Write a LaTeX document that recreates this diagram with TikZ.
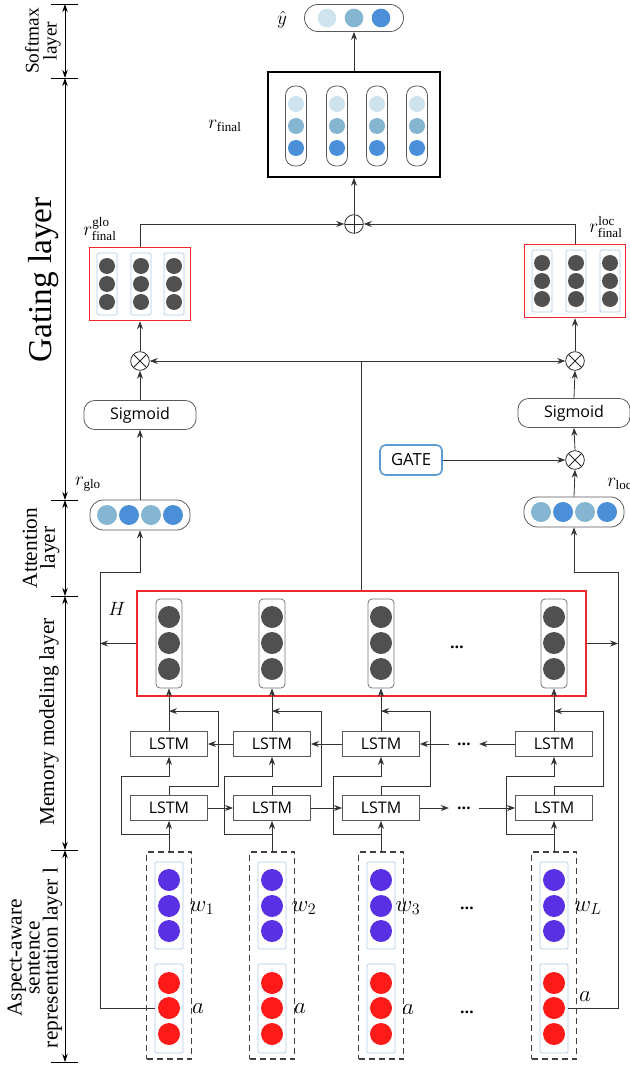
\documentclass[tikz,border=0pt]{standalone}
\usepackage{fontspec}
\setmainfont{Liberation Serif}
\newfontfamily\boxfont{Open Sans}
\usetikzlibrary{arrows.meta,positioning,calc}

\definecolor{vlight}{HTML}{CFE3EE}
\definecolor{vmid}{HTML}{84B5D1}
\definecolor{vdark}{HTML}{4A8FD8}
\definecolor{dgray}{HTML}{505050}
\definecolor{wpurple}{HTML}{5A30E4}
\definecolor{ared}{HTML}{FF1A1A}
\definecolor{redline}{HTML}{F0282D}
\definecolor{colblue}{HTML}{A9C9E6}
\definecolor{gateblue}{HTML}{5B9BD5}

\tikzset{
  ball/.style={circle,inner sep=0pt,minimum size=#1},
  link/.style={draw=black!80,line width=0.6pt},
  arr/.style={link,-{Stealth[length=6pt,width=4.5pt]}},
  dimarr/.style={black,line width=0.6pt,
    {Stealth[length=6pt,width=4pt]}-{Stealth[length=6pt,width=4pt]}},
  tick/.style={black,line width=0.6pt},
  axislabel/.style={rotate=90,align=center,inner sep=0pt,
    font=\fontsize{16}{13.5}\selectfont},
  mlabel/.style={inner sep=0pt,font=\fontsize{14}{14}\selectfont},
  emlabel/.style={inner sep=0pt,font=\fontsize{18}{18}\selectfont},
  pill/.style={draw=black!65,line width=0.6pt,rounded corners=8pt,inner sep=0pt},
  redbox/.style={draw=redline,line width=1.1pt,inner sep=0pt},
  gcol/.style={draw=colblue,line width=0.6pt,rounded corners=1pt,inner sep=0pt,
    minimum width=15pt,minimum height=46.5pt},
  hcol/.style={draw=black!55,line width=0.6pt,rounded corners=3pt,inner sep=0pt,
    minimum width=19.5pt,minimum height=66.75pt},
  embbox/.style={draw=black!75,line width=1pt,dash pattern=on 4.5pt off 3pt,
    inner sep=0pt,minimum width=33.75pt,minimum height=155.25pt},
  inbox/.style={draw=colblue,line width=0.6pt,rounded corners=1pt,inner sep=0pt,
    minimum width=21pt,minimum height=65.25pt},
  lstm/.style={draw=black!65,line width=0.6pt,inner sep=0pt,
    minimum width=57.75pt,minimum height=18.75pt,
    font=\boxfont\fontsize{12}{12}\selectfont},
  sigm/.style={pill,minimum width=84pt,minimum height=21.75pt,
    font=\boxfont\fontsize{12}{12}\selectfont},
  gatebox/.style={draw=gateblue,line width=1.2pt,rounded corners=4pt,inner sep=0pt,
    minimum width=46.5pt,minimum height=22.5pt,
    font=\boxfont\fontsize{12.5}{12.5}\selectfont},
  opnode/.style={circle,draw=black!85,line width=0.6pt,inner sep=0pt,minimum size=14pt},
  oplus/.style={opnode,path picture={
    \draw[line width=0.6pt] (path picture bounding box.north) -- (path picture bounding box.south)
      (path picture bounding box.west) -- (path picture bounding box.east);}},
  otimes/.style={opnode,path picture={
    \draw[line width=0.6pt] (path picture bounding box.north west) -- (path picture bounding box.south east)
      (path picture bounding box.north east) -- (path picture bounding box.south west);}},
  dots/.style={inner xsep=6pt,inner ysep=2pt,font=\boxfont\bfseries\fontsize{12}{12}\selectfont},
}

\begin{document}
\begin{tikzpicture}[x=0.75pt,y=-0.75pt]
  \useasboundingbox (0,0) rectangle (630,1066);

  %% layer axis
  \foreach \y in {4,78,500,596,850,1062}
    \draw[tick] (51,\y) -- (78,\y);
  \foreach \ya/\yb in {4/78,78/500,500/596,596/850,850/1062}
    \draw[dimarr] (65,\ya) -- (65,\yb);

  \node[axislabel,font=\fontsize{14.5}{13.5}\selectfont] (lsoft) at (43,41) {Softmax\\layer};
  \node[axislabel,font=\fontsize{25}{25}\selectfont] (lgate) at (44,280) {Gating layer};
  \node[axislabel] (latt) at (41,548) {Attention\\layer};
  \node[axislabel] (lmem) at (49,722) {Memory modeling layer};
  \node[axislabel] (lasp) at (35,958) {Aspect-aware\\sentence\\representation layer l};

  %% softmax output
  \node[pill,rounded corners=10pt,minimum width=74.25pt,minimum height=20.25pt] (yhat) at (354,18) {};
  \foreach \x/\c [count=\i] in {327/vlight,354/vmid,381/vdark}
    \node[ball=14pt,fill=\c] (yhat\i) at (\x,18) {};
  \node[mlabel] (lyhat) at (282,20) {$\hat{y}$};

  %% final representation
  \node[draw,line width=1.2pt,inner sep=0pt,minimum width=129pt,minimum height=78.75pt] (rfin) at (354,124.5) {};
  \foreach \x [count=\i] in {296,337,377,417} {
    \node[pill,rounded corners=7pt,minimum width=15.75pt,minimum height=60pt] (rfin\i) at (\x,126) {};
    \foreach \y/\c [count=\j] in {104/vlight,126/vmid,148/vdark}
      \node[ball=12pt,fill=\c] (rfin\i-\j) at (\x,\y) {};
  }
  \node[mlabel] (lrfin) at (225,126) {$r_{\mathrm{final}}$};
  \draw[arr] (rfin.north) -- (yhat.south);

  \node[oplus] (sum) at (354,224) {};
  \draw[arr] (sum.north) -- (rfin.south);

  %% gated global / local parts
  \node[redbox,minimum width=75.75pt,minimum height=54.75pt] (gglo) at (140,284) {};
  \node[redbox,minimum width=75.75pt,minimum height=54.75pt] (gloc) at (575,281) {};
  \foreach \x [count=\i] in {107,141,174} {
    \node[gcol] (gglo\i) at (\x,284) {};
    \foreach \y [count=\j] in {266,284,302}
      \node[ball=12pt,fill=dgray] (gglo\i-\j) at (\x,\y) {};
  }
  \foreach \x [count=\i] in {542,576,610} {
    \node[gcol] (gloc\i) at (\x,281) {};
    \foreach \y [count=\j] in {263,281,299}
      \node[ball=12pt,fill=dgray] (gloc\i-\j) at (\x,\y) {};
  }
  \node[mlabel] (lgglo) at (100,229) {$r^{\mathrm{glo}}_{\mathrm{final}}$};
  \node[mlabel] (lgloc) at (606,227) {$r^{\mathrm{loc}}_{\mathrm{final}}$};
  \draw[arr] (gglo.north) |- (sum.west);
  \draw[arr] (gloc.north) |- (sum.east);

  \node[otimes] (mglo) at (140,361) {};
  \node[otimes] (mloc) at (575,361) {};
  \node[otimes] (mgate) at (575,460) {};
  \node[sigm] (sglo) at (140,415) {Sigmoid};
  \node[sigm] (sloc) at (574,413) {Sigmoid};
  \node[gatebox] (gate) at (411,460) {GATE};

  %% attention outputs
  \node[pill,rounded corners=10pt,minimum width=75pt,minimum height=22.5pt] (rglo) at (140,515) {};
  \foreach \x/\c [count=\i] in {107/vmid,129/vdark,151/vmid,173/vdark}
    \node[ball=15pt,fill=\c] (rglo\i) at (\x,515) {};
  \node[pill,rounded corners=10pt,minimum width=75pt,minimum height=22.5pt] (rloc) at (574,512) {};
  \foreach \x/\c [count=\i] in {541/vmid,563/vdark,585/vmid,607/vdark}
    \node[ball=15pt,fill=\c] (rloc\i) at (\x,512) {};
  \node[mlabel] (lrglo) at (88,484) {$r_{\mathrm{glo}}$};
  \node[mlabel,anchor=west] (lrloc) at (607,484) {$r_{\mathrm{loc}}$};

  \draw[arr] (rglo.north) -- (sglo.south);
  \draw[arr] (sglo.north) -- (mglo.south);
  \draw[arr] (mglo.north) -- (gglo.south);
  \draw[arr] (rloc.north) -- (mgate.south);
  \draw[arr] (mgate.north) -- (sloc.south);
  \draw[arr] (sloc.north) -- (mloc.south);
  \draw[arr] (mloc.north) -- (gloc.south);
  \draw[arr] (gate.east) -- (mgate.west);

  %% hidden states H
  \node[redbox,minimum width=336.75pt,minimum height=78.75pt] (H) at (361.5,643.5) {};
  \node[mlabel] (lH) at (117,609) {$H$};
  \foreach \x [count=\i] in {169,272,381,554} {
    \node[hcol] (h\i) at (\x,643.5) {};
    \foreach \y [count=\j] in {617,643,669}
      \node[ball=16.5pt,fill=dgray] (h\i-\j) at (\x,\y) {};
  }
  \node[dots] (hdots) at (457,647) {…};

  \coordinate (hsplit) at (361,361);
  \draw[link] (H.north -| hsplit) -- (hsplit);
  \draw[arr] (hsplit) -- (mglo.east);
  \draw[arr] (hsplit) -- (mloc.west);

  %% word + aspect inputs
  \foreach \x/\sub/\dw/\da/\ay [count=\i] in {169/1/33/29/1009,272/2/32/28/1009,381/3/27/27/1010,554/L/34/31/997} {
    \node[embbox] (e\i) at (\x,955.5) {};
    \node[inbox] (w\i) at (\x,905.5) {};
    \node[inbox,minimum height=66.75pt] (a\i) at (\x,1008.5) {};
    \foreach \y [count=\j] in {880,906,931}
      \node[ball=16.5pt,fill=wpurple] (w\i-\j) at (\x,\y) {};
    \foreach \y [count=\j] in {983,1008,1034}
      \node[ball=16.5pt,fill=ared] (a\i-\j) at (\x,\y) {};
    \node[emlabel] (lw\i) at (\x+\dw,908) {$w_{\sub}$};
    \node[emlabel] (la\i) at (\x+\da,\ay) {$a$};
  }
  \node[dots] (wdots) at (467,908) {…};
  \node[dots] (adots) at (467,1012) {…};

  %% bidirectional LSTM
  \foreach \x [count=\i] in {169,272,381,554} {
    \node[lstm] (b\i) at (\x,744) {LSTM};
    \node[lstm] (f\i) at (\x,808) {LSTM};
    \coordinate (in\i) at (\x,834);
    \draw[arr] (e\i.north) -- (f\i.south);
    \draw[arr] (in\i) -| ++(-48,-58) -| (b\i.south);
    \draw[arr] (f\i.north) -- ++(0,-9) -- ++(49,0) -- ++(0,-75) -- ++(-49,0);
    \draw[arr] (b\i.north) -- (h\i.south);
  }
  \node[dots] (fdots) at (464,808) {…};
  \node[dots] (bdots) at (464,744) {…};
  \draw[arr] (f1.east) -- (f2.west);
  \draw[arr] (f2.east) -- (f3.west);
  \draw[arr] (f3.east) -- (fdots.west);
  \draw[arr] (fdots.east) -- (f4.west);
  \draw[arr] (b4.west) -- (bdots.east);
  \draw[arr] (bdots.west) -- (b3.east);
  \draw[arr] (b3.west) -- (b2.east);
  \draw[arr] (b2.west) -- (b1.east);

  %% side paths into attention
  \coordinate (gloturn) at (100,572);
  \coordinate (locturn) at (618,572);
  \draw[arr] (a1.west) -| (gloturn) -| (rglo.south);
  \draw[arr] (a4.east) -| (locturn) -| (rloc.south);
  \draw[arr] (H.west) -- (H.west -| gloturn);
  \draw[arr] (H.east) -- (H.east -| locturn);

\end{tikzpicture}
\end{document}
